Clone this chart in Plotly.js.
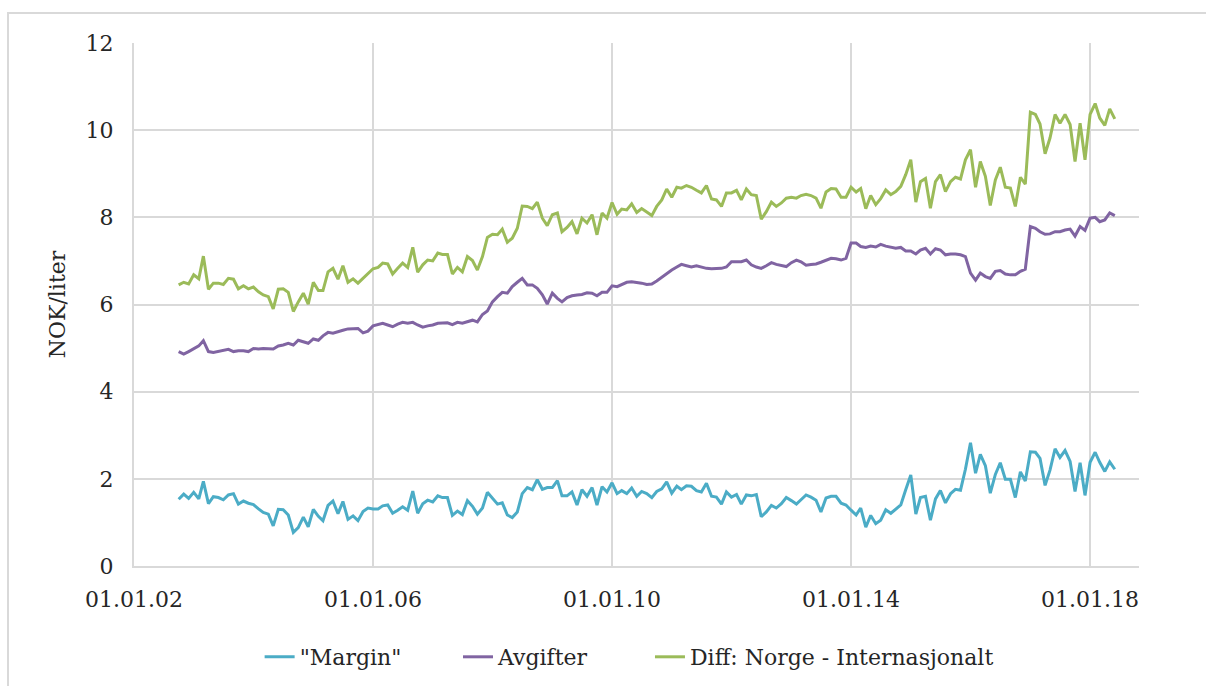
<!DOCTYPE html>
<html>
<head>
<meta charset="utf-8">
<script src="https://cdn.plot.ly/plotly-3.0.1.min.js"></script>
<style>
  html, body { margin: 0; padding: 0; background: #ffffff; overflow: hidden; }
  #wrap { position: relative; width: 1206px; height: 686px; }
  #chart { position: absolute; left: 0; top: 0; width: 1206px; height: 686px; }
  #frame { position: absolute; left: 7px; top: 12px; width: 1400px; height: 900px;
           border-left: 2px solid #d9d9d9; border-top: 2px solid #d9d9d9; pointer-events: none; }
</style>
</head>
<body>
<div id="wrap">
  <div id="chart"></div>
  <div id="frame"></div>
</div>
<script>
// Monthly observations, first month October 2002
const startYear = 2002;
const startMonth = 10;

const seriesNames = ['"Margin"', 'Avgifter', 'Diff: Norge - Internasjonalt'];

const margin = [1.53,1.65,1.55,1.69,1.54,1.94,1.43,1.59,1.57,1.52,
1.63,1.66,1.42,1.49,1.44,1.41,1.31,1.23,1.19,0.92,
1.30,1.29,1.17,0.77,0.88,1.12,0.90,1.30,1.14,1.04,
1.39,1.49,1.20,1.48,1.07,1.15,1.04,1.25,1.33,1.31,
1.31,1.38,1.40,1.21,1.28,1.36,1.28,1.72,1.21,1.43,
1.51,1.47,1.61,1.57,1.57,1.16,1.26,1.18,1.50,1.37,
1.19,1.33,1.69,1.55,1.42,1.45,1.17,1.11,1.24,1.66,
1.80,1.75,1.98,1.76,1.80,1.80,1.96,1.61,1.61,1.70,
1.40,1.75,1.60,1.80,1.40,1.82,1.70,1.91,1.66,1.73,
1.66,1.79,1.60,1.71,1.66,1.57,1.71,1.77,1.93,1.67,
1.83,1.75,1.84,1.83,1.73,1.70,1.90,1.60,1.58,1.42,
1.70,1.58,1.64,1.42,1.63,1.61,1.64,1.13,1.24,1.39,
1.33,1.43,1.57,1.50,1.42,1.52,1.63,1.58,1.51,1.24,
1.56,1.60,1.60,1.44,1.40,1.28,1.17,1.33,0.89,1.16,
0.97,1.05,1.29,1.21,1.30,1.40,1.75,2.09,1.19,1.57,
1.60,1.05,1.54,1.73,1.45,1.66,1.76,1.74,2.22,2.83,
2.13,2.56,2.30,1.67,2.10,2.37,1.99,1.99,1.57,2.16,
1.95,2.62,2.61,2.47,1.85,2.20,2.69,2.49,2.65,2.40,
1.71,2.37,1.62,2.38,2.61,2.38,2.17,2.39,2.22];

const avgifter = [4.92,4.86,4.92,4.99,5.05,5.17,4.92,4.90,4.92,4.94,
4.97,4.92,4.94,4.94,4.92,4.99,4.98,4.99,4.99,4.98,
5.05,5.07,5.11,5.07,5.18,5.14,5.11,5.21,5.18,5.28,
5.36,5.34,5.38,5.41,5.44,5.44,5.45,5.35,5.39,5.51,
5.54,5.57,5.53,5.49,5.55,5.59,5.57,5.59,5.53,5.48,
5.51,5.53,5.57,5.58,5.58,5.54,5.59,5.57,5.60,5.64,
5.60,5.77,5.85,6.06,6.18,6.28,6.26,6.41,6.51,6.60,
6.45,6.45,6.37,6.22,6.01,6.26,6.14,6.06,6.16,6.20,
6.22,6.23,6.27,6.26,6.20,6.28,6.28,6.43,6.41,6.46,
6.51,6.52,6.51,6.49,6.46,6.47,6.54,6.63,6.72,6.79,
6.86,6.92,6.89,6.86,6.89,6.86,6.83,6.82,6.82,6.83,
6.86,6.98,6.98,6.98,7.02,6.91,6.86,6.83,6.89,6.96,
6.92,6.90,6.87,6.96,7.02,6.98,6.90,6.92,6.93,6.97,
7.02,7.06,7.05,7.02,7.06,7.41,7.41,7.33,7.31,7.34,
7.32,7.38,7.34,7.31,7.29,7.31,7.23,7.23,7.16,7.25,
7.29,7.16,7.28,7.25,7.14,7.16,7.16,7.14,7.10,6.72,
6.56,6.72,6.64,6.60,6.76,6.78,6.70,6.68,6.68,6.76,
6.81,7.79,7.75,7.67,7.61,7.62,7.67,7.67,7.71,7.73,
7.57,7.79,7.70,7.98,8.00,7.90,7.94,8.10,8.04];

const diff = [6.45,6.51,6.47,6.68,6.59,7.11,6.35,6.49,6.49,6.46,
6.60,6.58,6.36,6.43,6.36,6.40,6.29,6.22,6.18,5.90,
6.35,6.36,6.28,5.84,6.06,6.26,6.01,6.51,6.32,6.32,
6.75,6.83,6.58,6.89,6.51,6.59,6.49,6.60,6.72,6.82,
6.85,6.95,6.93,6.70,6.83,6.95,6.85,7.31,6.74,6.91,
7.02,7.00,7.18,7.15,7.15,6.70,6.85,6.75,7.10,7.01,
6.79,7.10,7.54,7.61,7.60,7.73,7.43,7.52,7.75,8.26,
8.25,8.20,8.35,7.98,7.81,8.06,8.10,7.67,7.77,7.90,
7.62,7.98,7.87,8.06,7.60,8.10,7.98,8.34,8.07,8.19,
8.17,8.31,8.11,8.20,8.12,8.04,8.25,8.40,8.65,8.46,
8.69,8.67,8.73,8.69,8.62,8.56,8.73,8.42,8.40,8.25,
8.56,8.56,8.62,8.40,8.65,8.52,8.50,7.96,8.13,8.35,
8.25,8.33,8.44,8.46,8.44,8.50,8.53,8.50,8.44,8.21,
8.58,8.66,8.65,8.46,8.46,8.69,8.58,8.66,8.20,8.50,
8.29,8.43,8.63,8.52,8.59,8.71,8.98,9.32,8.35,8.82,
8.89,8.21,8.82,8.98,8.59,8.82,8.92,8.88,9.32,9.55,
8.69,9.28,8.94,8.27,8.86,9.15,8.69,8.67,8.25,8.92,
8.76,10.41,10.36,10.14,9.46,9.82,10.36,10.16,10.36,10.13,
9.28,10.16,9.32,10.36,10.61,10.28,10.11,10.49,10.26];

const yTickVals = [0, 2, 4, 6, 8, 10, 12];
const xTickVals = ['2002-01-01', '2006-01-01', '2010-01-01', '2014-01-01', '2018-01-01'];
const xTickText = ['01.01.02', '01.01.06', '01.01.10', '01.01.14', '01.01.18'];

// month dates for the observations
const dates = [];
for (let i = 0; i < margin.length; i++) {
  const total = (startMonth - 1) + i;
  const y = startYear + Math.floor(total / 12);
  const m = (total % 12) + 1;
  dates.push(y + '-' + String(m).padStart(2, '0') + '-01');
}

const colors = ['#4bacc6', '#8064a2', '#9bbb59'];
const values = [margin, avgifter, diff];
const legendIds = ['legend', 'legend2', 'legend3'];

const traces = values.map((v, i) => ({
  type: 'scatter',
  mode: 'lines',
  x: dates,
  y: v,
  name: seriesNames[i],
  legend: legendIds[i],
  line: { color: colors[i], width: 3 }
}));

const fontFam = '"DejaVu Serif", "Liberation Serif", serif';

function legendAt(xPaper) {
  return {
    orientation: 'h',
    x: xPaper,
    xanchor: 'left',
    y: -0.174,
    yanchor: 'middle',
    font: { family: fontFam, size: 22, color: '#262626' },
    bgcolor: 'rgba(0,0,0,0)'
  };
}

const layout = {
  width: 1206,
  height: 686,
  margin: { l: 134, r: 67, t: 43, b: 120, autoexpand: false },
  paper_bgcolor: '#ffffff',
  plot_bgcolor: '#ffffff',
  font: { family: fontFam, size: 22, color: '#262626' },
  showlegend: true,
  legend: legendAt(0.125),
  legend2: legendAt(0.3224),
  legend3: legendAt(0.5134),
  xaxis: {
    type: 'date',
    range: ['2002-01-01', '2018-10-27'],
    tickmode: 'array',
    tickvals: xTickVals,
    ticktext: xTickText,
    showgrid: true,
    gridcolor: '#d9d9d9',
    gridwidth: 2,
    showline: true,
    linecolor: '#d9d9d9',
    linewidth: 2,
    ticks: '',
    zeroline: false,
    automargin: false,
    ticklabelstandoff: 13,
    tickfont: { family: fontFam, size: 22, color: '#262626' }
  },
  yaxis: {
    range: [0, 12],
    tickmode: 'array',
    tickvals: yTickVals,
    showgrid: true,
    gridcolor: '#d9d9d9',
    gridwidth: 2,
    showline: true,
    linecolor: '#d9d9d9',
    linewidth: 2,
    ticks: '',
    zeroline: false,
    automargin: false,
    ticklabelstandoff: 14,
    tickfont: { family: fontFam, size: 22, color: '#262626' },
    title: { text: 'NOK/liter', standoff: 14, font: { family: fontFam, size: 22, color: '#262626' } }
  }
};

Plotly.newPlot('chart', traces, layout, { displayModeBar: false, staticPlot: true });
</script>
</body>
</html>
